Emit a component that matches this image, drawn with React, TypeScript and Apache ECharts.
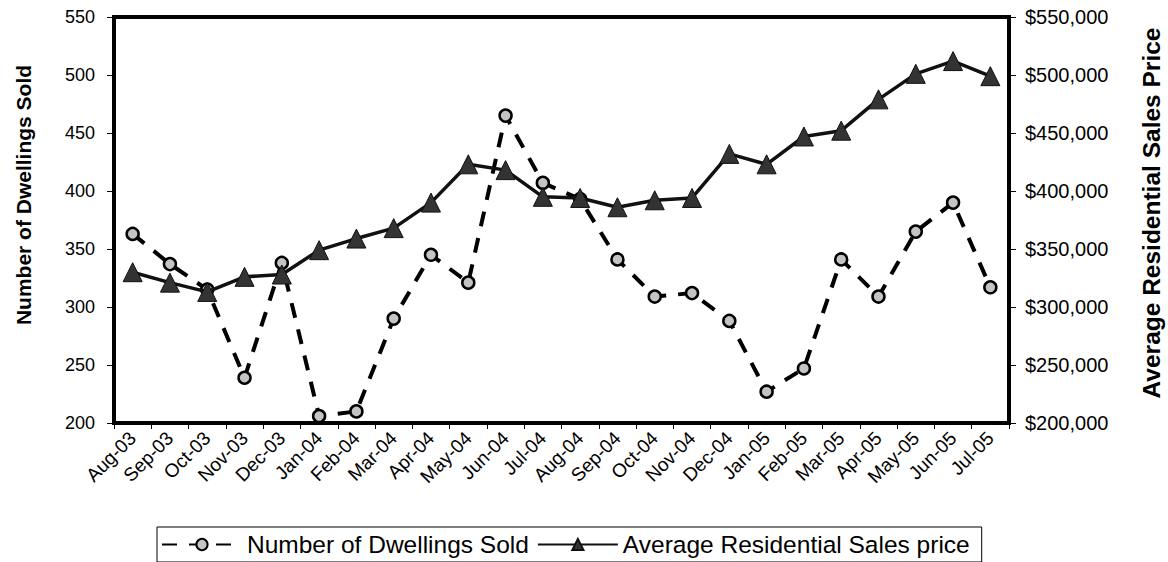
import React, { useEffect, useRef } from "react";
import * as echarts from "echarts";

const categories = [
  "Aug-03", "Sep-03", "Oct-03", "Nov-03", "Dec-03", "Jan-04", "Feb-04", "Mar-04",
  "Apr-04", "May-04", "Jun-04", "Jul-04", "Aug-04", "Sep-04", "Oct-04", "Nov-04",
  "Dec-04", "Jan-05", "Feb-05", "Mar-05", "Apr-05", "May-05", "Jun-05", "Jul-05",
];

const dwellingsSold = [
  363, 337, 315, 239, 338, 206, 210, 290,
  345, 321, 465, 407, 393, 341, 309, 312,
  288, 227, 247, 341, 309, 365, 390, 317,
];

const avgPrice = [
  330000, 321000, 313000, 326000, 328000, 349000, 359000, 368000,
  390000, 423000, 418000, 395000, 394000, 386000, 392000, 394000,
  432000, 423000, 447000, 452000, 479000, 501000, 512000, 499000,
];

const leftTicks = { min: 200, max: 550, interval: 50 };
const rightTicks = { min: 200000, max: 550000, interval: 50000 };

const leftTitle = "Number of Dwellings Sold";
const rightTitle = "Average Residential Sales Price";
const seriesNames = ["Number of Dwellings Sold", "Average Residential Sales price"];

const FONT = "Liberation Sans, Arial, sans-serif";

export default function App() {
  const ref = useRef<HTMLDivElement>(null);
  useEffect(() => {
    if (!ref.current) return;
    const chart = echarts.init(ref.current, undefined, { renderer: "svg" });
    chart.setOption({
      animation: false,
      backgroundColor: "#fff",
      textStyle: { fontFamily: FONT, color: "#000" },
      grid: {
        left: 114, right: 159, top: 17, bottom: 139,
        show: true, borderColor: "#000", borderWidth: 4,
      },
      graphic: [
        {
          type: "text", x: 23, y: 195, rotation: Math.PI / 2,
          style: {
            text: leftTitle, font: `bold 21px ${FONT}`, fill: "#000",
            textAlign: "center", textVerticalAlign: "middle",
          },
        },
        {
          type: "text", x: 1151, y: 213, rotation: Math.PI / 2,
          style: {
            text: rightTitle, font: `bold 24.5px ${FONT}`, fill: "#000",
            textAlign: "center", textVerticalAlign: "middle",
          },
        },
      ],
      legend: {
        show: true,
        left: 157, top: 527,
        padding: [5, 12, 5, 4],
        borderColor: "#000", borderWidth: 1, backgroundColor: "#fff",
        itemWidth: 80, itemHeight: 14, itemGap: 8,
        textStyle: { fontFamily: FONT, fontSize: 24.5, color: "#000" },
        data: seriesNames,
      },
      xAxis: {
        type: "category",
        data: categories,
        boundaryGap: true,
        axisLine: { lineStyle: { color: "#000", width: 4 } },
        axisTick: { show: true, length: 6, lineStyle: { color: "#000", width: 1 } },
        axisLabel: {
          rotate: 45, fontSize: 19, color: "#000", fontFamily: FONT,
          margin: 12, interval: 0,
        },
      },
      yAxis: [
        {
          type: "value",
          ...leftTicks,
          axisLine: { show: true, lineStyle: { color: "#000", width: 4 } },
          axisTick: { show: true, length: 7, lineStyle: { color: "#000", width: 1 } },
          axisLabel: { fontSize: 18, color: "#000", fontFamily: FONT, margin: 19 },
          splitLine: { show: false },
        },
        {
          type: "value",
          ...rightTicks,
          position: "right",
          axisLine: { show: true, lineStyle: { color: "#000", width: 4 } },
          axisTick: { show: true, length: 7, lineStyle: { color: "#000", width: 1 } },
          axisLabel: {
            fontSize: 20, color: "#000", fontFamily: FONT, margin: 16,
            formatter: (v: number) => "$" + v.toLocaleString("en-US"),
          },
          splitLine: { show: false },
        },
      ],
      series: [
        {
          name: seriesNames[0],
          type: "line",
          yAxisIndex: 0,
          data: dwellingsSold,
          symbol: "circle",
          symbolSize: 12,
          z: 2,
          lineStyle: { color: "#000", width: 4, type: [15, 12] },
          itemStyle: { color: "#c4c4c4", borderColor: "#000", borderWidth: 2.5 },
        },
        {
          name: seriesNames[1],
          type: "line",
          yAxisIndex: 1,
          data: avgPrice,
          symbol: "triangle",
          symbolSize: 19,
          z: 3,
          lineStyle: { color: "#111", width: 3.5 },
          itemStyle: { color: "#333", borderColor: "#111", borderWidth: 1 },
        },
      ],
    });
    return () => chart.dispose();
  }, []);
  return (
    <div
      ref={ref}
      style={{ position: "fixed", left: 0, top: 0, width: 1168, height: 562, background: "#fff" }}
    />
  );
}
